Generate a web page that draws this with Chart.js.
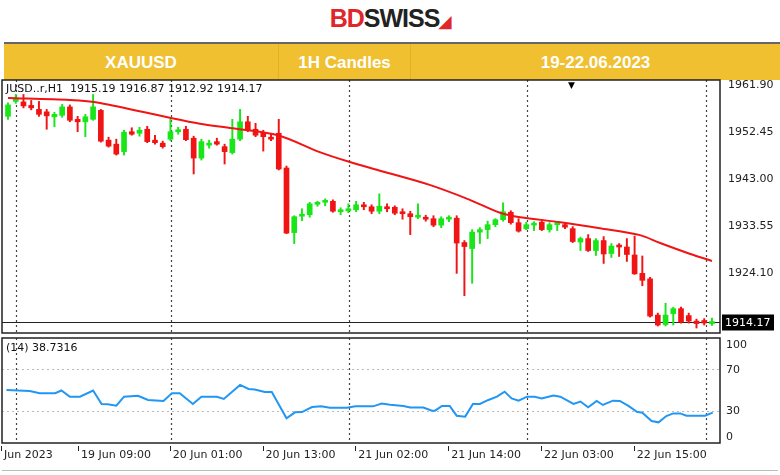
<!DOCTYPE html>
<html><head><meta charset="utf-8">
<script src="https://cdn.jsdelivr.net/npm/chart.js@4"></script>
<style>
body{margin:0;width:780px;height:475px;background:#fff;position:relative;overflow:hidden;font-family:"DejaVu Sans",sans-serif}
.abs{position:absolute}
#logo{left:0;width:780px;top:4px;text-align:center;font:bold 25px "Liberation Sans",Arial;letter-spacing:-1px}
#bar{left:4px;top:42px;width:776px;height:36px;background:#F0C030;border-top:2px solid #666}
.cell{position:absolute;top:0;height:36px;text-align:center;color:#fff;font:bold 17px "Liberation Sans",Arial;line-height:38px}
.sep{position:absolute;top:0;width:1px;height:36px;background:#e6b020}
.pl{font-size:11px;color:#222;left:728px}
.xl{font-size:11px;color:#222;top:448px}
</style></head><body>
<div id="logo" class="abs"><span style="color:#e0262b">BD</span><span style="color:#222">SWISS</span><span style="color:#e0262b;font-size:16px">&#9698;</span></div>
<div id="bar" class="abs">
  <div class="cell" style="left:0;width:274px">XAUUSD</div>
  <div class="sep" style="left:274px"></div>
  <div class="cell" style="left:275px;width:131px">1H Candles</div>
  <div class="sep" style="left:406px"></div>
  <div class="cell" style="left:407px;width:369px">19-22.06.2023</div>
</div>
<canvas id="main" class="abs" width="780" height="258" style="left:0;top:78px;width:780px;height:258px"></canvas>
<canvas id="rsi" class="abs" width="780" height="110" style="left:0;top:336px;width:780px;height:110px"></canvas>
<div class="abs" style="left:6px;top:82px;font-size:11px;color:#111">JUSD..r,H1&nbsp; 1915.19 1916.87 1912.92 1914.17</div>
<div class="abs" style="left:6px;top:341px;font-size:11px;color:#111">(14) 38.7316</div>
<div class="abs" style="left:568px;top:80px;font-size:9px">&#9660;</div>
<div class="abs" style="left:2px;top:470px;width:776px;height:1px;background:#bbb"></div>
<div id="labels"></div>
<script>
// candles, index = hour bar
const opens = [1955.6,1958.6,1958.5,1957.8,1957.0,1956.5,1955.5,1955.8,1957.5,1955.0,1954.5,1955.0,1956.8,1950.8,1950.0,1948.5,1952.5,1952.2,1953.0,1950.8,
 1950.2,1951.0,1952.5,1953.0,1951.2,1947.2,1949.8,1950.5,1949.5,1948.3,1951.0,1954.5,1953.0,1952.3,1951.3,1952.2,1945.2,1932.2,1935.5,1935.8,
 1937.9,1938.3,1938.5,1936.4,1936.6,1936.8,1937.8,1937.4,1936.5,1937.4,1937.3,1936.3,1936.0,1935.3,1935.3,1935.0,1933.7,1934.9,1935.1,1930.2,
 1929.0,1932.3,1932.8,1933.8,1934.8,1936.3,1934.2,1933.0,1933.7,1934.3,1932.8,1933.8,1933.8,1933.0,1930.3,1931.0,1928.6,1930.6,1928.0,1929.5,
 1929.3,1927.7,1924.0,1922.9,1915.6,1913.7,1915.9,1916.9,1915.5,1914.4,1914.5,1913.9];
const highs = [1958.3,1960.0,1960.0,1958.8,1958.6,1957.0,1956.4,1958.0,1957.9,1955.6,1956.0,1960.0,1957.0,1951.4,1951.0,1952.8,1953.3,1953.4,1953.6,1951.8,
 1950.6,1955.0,1953.4,1953.6,1951.6,1951.0,1950.8,1951.2,1950.0,1955.0,1957.0,1955.6,1954.2,1952.8,1952.2,1955.0,1945.6,1935.6,1937.0,1938.3,
 1938.5,1939.0,1938.8,1937.2,1938.0,1938.5,1938.3,1937.8,1940.0,1938.0,1937.6,1937.0,1936.5,1938.0,1935.7,1935.6,1935.4,1935.6,1935.6,1930.6,
 1932.8,1933.2,1934.5,1935.0,1938.2,1936.6,1935.0,1934.3,1934.4,1934.6,1934.2,1934.2,1934.2,1933.4,1931.3,1931.8,1931.0,1931.4,1930.0,1930.0,
 1931.0,1931.5,1927.5,1923.2,1916.0,1918.0,1917.2,1917.2,1916.0,1914.8,1914.9,1915.0];
const lows = [1955.0,1958.2,1957.3,1956.9,1955.6,1953.0,1953.5,1955.4,1954.5,1952.5,1951.5,1954.8,1950.4,1949.4,1947.8,1947.8,1951.8,1951.6,1950.3,1950.0,
 1949.2,1950.7,1952.0,1950.7,1944.0,1946.8,1949.2,1949.8,1946.0,1948.0,1950.7,1952.5,1951.5,1948.6,1950.7,1944.8,1932.0,1930.0,1934.6,1935.3,
 1937.5,1937.6,1936.3,1935.8,1936.2,1936.4,1936.8,1936.0,1936.0,1936.4,1935.8,1934.9,1931.8,1935.0,1934.5,1933.4,1933.2,1934.4,1924.0,1919.5,
 1922.0,1930.0,1931.0,1933.4,1934.5,1933.9,1932.3,1932.8,1932.6,1932.6,1932.3,1932.6,1933.0,1930.2,1928.6,1928.4,1927.6,1926.0,1927.2,1927.4,
 1926.4,1923.8,1921.5,1915.2,1913.4,1913.4,1913.6,1914.0,1914.0,1913.0,1913.6,1913.5];
const closes = [1957.9,1959.2,1957.7,1957.3,1956.0,1955.7,1956.0,1957.5,1954.8,1954.5,1955.5,1957.5,1950.6,1949.6,1948.0,1952.4,1952.0,1952.8,1950.5,1950.3,
 1949.5,1952.5,1952.7,1950.9,1947.2,1950.5,1950.1,1950.0,1948.5,1951.0,1954.5,1952.8,1951.8,1951.5,1951.0,1945.0,1932.1,1935.4,1935.9,1938.0,
 1938.2,1938.5,1936.5,1936.6,1936.8,1937.8,1937.4,1936.5,1937.5,1937.0,1936.1,1936.0,1935.4,1935.6,1934.9,1933.7,1935.0,1935.1,1930.1,1929.4,
 1932.3,1932.8,1933.8,1934.8,1936.4,1934.2,1932.5,1933.8,1934.0,1932.8,1933.8,1934.0,1933.3,1930.4,1931.0,1928.6,1930.6,1927.9,1929.5,1929.3,
 1927.8,1923.9,1922.6,1915.4,1913.6,1915.6,1916.9,1914.2,1914.4,1913.9,1914.0,1914.17];
// moving average
const maX = [0,8,11.9,20.9,24.8,29,34.9,40.3,44.2,48.7,54.5,59.7,63.6,66.2,71.4,76.5,81.7,84.3,88.2,91];
const maY = [1959.3,1958.9,1958.3,1955.3,1954.1,1953.2,1951.8,1948.4,1946.4,1944.4,1941.8,1938.8,1936.2,1935.3,1934.3,1933.1,1931.7,1930.1,1927.9,1926.5];
// RSI(14)
const rsiX = [-0.2,2.8,4.1,6.1,6.9,8.0,9.3,11.0,12.1,12.9,14.0,15.0,16.8,18.1,20.1,21.2,22.2,23.9,25.0,27.0,27.9,30.0,31.1,31.9,33.2,34.1,36.0,37.1,38.0,39.3,
 40.5,41.6,43.8,44.9,47.2,48.3,49.4,51.1,52.0,53.7,54.8,55.2,56.1,57.1,58.0,59.1,60.1,61.0,62.1,63.2,64.2,65.1,66.0,67.1,68.1,69.0,70.5,71.4,73.1,74.0,
 75.0,76.1,76.9,78.2,79.1,80.2,81.3,82.0,83.2,84.1,85.1,86.0,86.9,87.7,90.1,91.1];
const rsiY = [50,49,47,47,49.5,43.6,43.6,49.5,36.7,36.4,35,43.6,44.5,40.5,39.5,47,47,36.7,43.6,43.6,41.5,54.8,51,50.5,48,48,23,28.7,29,33.8,
 34.6,33,33,34.6,34.4,37,36,34.8,33.3,33.3,30.3,30.3,34.8,34.8,25.5,24.6,36.7,36.7,40.5,43.6,48.4,42,39.8,43.6,43.6,42,44.8,43.6,36.7,39,
 33.6,39.5,35.7,39.8,39.5,34.8,29.3,28.4,20.5,19.2,25.2,27.7,27.7,25.5,25.5,28.4];
const priceTicks = [1961.90,1952.45,1943.00,1933.55,1924.10];
const rsiTicks = ['100','70','30','0'];
const rsiTickTops = [338,363,404,430];
const separators = [1.03,21.07,44.08,67.09,90.23];
const timeLabels = ['Jun 2023','19 Jun 09:00','20 Jun 01:00','20 Jun 13:00','21 Jun 02:00','21 Jun 14:00','22 Jun 03:00','22 Jun 15:00'];
const timeIdx = [-0.9,9.05,20.9,32.9,44.9,56.9,68.9,80.9];
const lastPrice = 1914.17;

const GREEN='#19e619', RED='#f01414';
const cols = opens.map((o,i)=> closes[i]>=o ? GREEN : RED);
const xRange = {min:-0.776, max:92.04};

const frame = {
  id:'frame',
  beforeDatasetsDraw(c, a, o){
    const {ctx, chartArea:ca, scales} = c;
    ctx.save();
    ctx.strokeStyle='#444'; ctx.lineWidth=1.2; ctx.setLineDash([2,3]);
    separators.forEach(v=>{const x=Math.round(scales.x.getPixelForValue(v))+0.5;
      ctx.beginPath(); ctx.moveTo(x,ca.top); ctx.lineTo(x,ca.bottom); ctx.stroke();});
    if(o.dashY){ctx.strokeStyle='#bbb'; ctx.lineWidth=1;
      o.dashY.forEach(v=>{const y=Math.round(scales.y.getPixelForValue(v))+0.5;
        ctx.beginPath(); ctx.moveTo(ca.left,y); ctx.lineTo(ca.right,y); ctx.stroke();});}
    ctx.setLineDash([]);
    if(o.last){const y=Math.round(scales.y.getPixelForValue(o.last))+0.5;
      ctx.strokeStyle='#222'; ctx.beginPath(); ctx.moveTo(ca.left,y); ctx.lineTo(ca.right,y); ctx.stroke();
      ctx.fillStyle='#000'; ctx.fillRect(ca.right+2,y-8,52,16);
      ctx.fillStyle='#fff'; ctx.font='11px "DejaVu Sans"'; ctx.textBaseline='middle'; ctx.fillText(o.last.toFixed(2),ca.right+5,y+1);}
    ctx.strokeStyle='#222'; ctx.lineWidth=1.5;
    ctx.strokeRect(ca.left,ca.top,ca.right-ca.left,ca.bottom-ca.top);
    ctx.restore();
  }
};

const xs = opens.map((_,i)=>i);
new Chart(document.getElementById('main'), {
  type:'bar',
  data:{datasets:[
    {data:xs.map(i=>({x:i,y:[lows[i],highs[i]]})), backgroundColor:cols, barThickness:1.3, grouped:false, order:2},
    {data:xs.map(i=>({x:i,y:[opens[i],closes[i]===opens[i]?closes[i]+0.15:closes[i]]})), backgroundColor:cols, barThickness:5, grouped:false, minBarLength:2, order:1},
    {type:'line', data:maX.map((x,i)=>({x, y:maY[i]})), borderColor:'#f01414', borderWidth:2, pointRadius:0, tension:0.3, order:0}
  ]},
  options:{responsive:false, animation:false, devicePixelRatio:1,
    layout:{padding:{left:2,right:60,top:2,bottom:3}},
    plugins:{legend:{display:false}, tooltip:{enabled:false}, frame:{last:lastPrice}},
    scales:{x:{type:'linear', ...xRange, display:false, offset:false},
            y:{min:1912.0, max:1962.91, display:false}}},
  plugins:[frame]
});

new Chart(document.getElementById('rsi'), {
  type:'line',
  data:{datasets:[{data:rsiX.map((x,i)=>({x, y:rsiY[i]})), borderColor:'#2196f3', borderWidth:2, pointRadius:0, tension:0}]},
  options:{responsive:false, animation:false, devicePixelRatio:1,
    layout:{padding:{left:2,right:60,top:2,bottom:3}},
    plugins:{legend:{display:false}, tooltip:{enabled:false}, frame:{dashY:[30,70]}},
    scales:{x:{type:'linear', ...xRange, display:false},
            y:{min:-0.5, max:99.5, display:false}}},
  plugins:[frame]
});

// axis labels as text
const lab = document.getElementById('labels');
const pxY = v => 85 + (1961.9 - v) * 4.97;
priceTicks.forEach(v=>{const d=document.createElement('div'); d.className='abs pl';
  d.style.top=(pxY(v)-7)+'px'; d.textContent=v.toFixed(2); lab.appendChild(d);});
rsiTicks.forEach((v,i)=>{const d=document.createElement('div'); d.className='abs pl';
  d.style.left='726px'; d.style.top=rsiTickTops[i]+'px'; d.textContent=v; lab.appendChild(d);});
timeLabels.forEach((t,i)=>{const x=2+(timeIdx[i]-xRange.min)/(xRange.max-xRange.min)*718;
  const d=document.createElement('div'); d.className='abs xl'; d.style.left=(x+3)+'px'; d.textContent=t; lab.appendChild(d);
  const k=document.createElement('div'); k.className='abs'; k.style.cssText=`left:${x}px;top:446px;width:1px;height:5px;background:#222`; lab.appendChild(k);});
</script>
</body></html>
